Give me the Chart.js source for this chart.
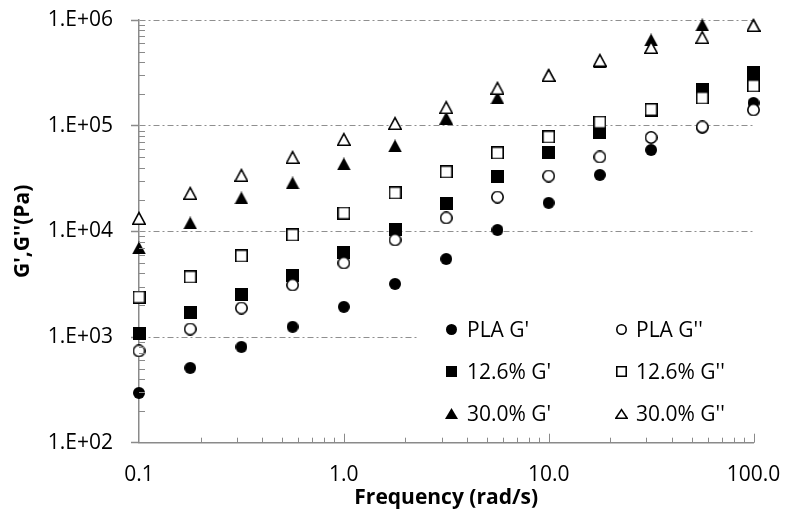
<!DOCTYPE html>
<html>
<head>
<meta charset="utf-8">
<script src="https://cdn.jsdelivr.net/npm/chart.js@4.4.0/dist/chart.umd.min.js"></script>
<style>
  html, body { margin: 0; padding: 0; background: #fff; }
  #wrap { width: 788px; height: 515px; }
</style>
</head>
<body>
<div id="wrap"><canvas id="chart" width="788" height="515"></canvas></div>
<script>
// Frequency sweep (rad/s)
const frequencies = [0.1, 0.1778, 0.3162, 0.5623, 1, 1.778, 3.162, 5.623, 10, 17.78, 31.62, 56.23, 100];

// Storage / loss moduli (Pa)
const plaG1    = [296, 510, 806, 1250, 1930, 3180, 5480, 10300, 18600, 34200, 58900, 96000, 164000];
const plaG2    = [739, 1190, 1880, 3110, 5020, 8300, 13400, 21100, 33400, 50600, 77300, 97300, 141000];
const pct126G1 = [1090, 1690, 2500, 3780, 6250, 10500, 18200, 32700, 55200, 87100, 140000, 220000, 316000];
const pct126G2 = [2390, 3700, 5850, 9240, 14900, 23100, 36500, 55200, 78200, 108000, 142000, 183000, 238000];
const pct30G1  = [6970, 12000, 20700, 28700, 43400, 64300, 118000, 183000, 300000, 401000, 647000, 897000, 890000];
const pct30G2  = [13400, 23100, 34200, 50600, 74900, 106000, 150000, 228000, 302000, 419000, 556000, 690000, 897000];

const seriesNames = ["PLA G'", "PLA G''", "12.6% G'", "12.6% G''", "30.0% G'", "30.0% G''"];

// Axis ticks
const xTicks = [0.1, 1, 10, 100];
const xTickLabels = ['0.1', '1.0', '10.0', '100.0'];
const yTicks = [1e2, 1e3, 1e4, 1e5, 1e6];
const yTickLabels = ['1.E+02', '1.E+03', '1.E+04', '1.E+05', '1.E+06'];

const FONT = '"Open Sans", "DejaVu Sans", sans-serif';
const AXIS_COLOR = '#8a8a8a';
const GRID_COLOR = '#8f8f8f';

// Marker bitmaps (Excel-like filled / hollow symbols)
function makeMarker(shape, filled, w, h) {
  const c = document.createElement('canvas');
  c.width = w;
  c.height = h;
  const g = c.getContext('2d');
  const lw = filled ? 0 : 1.6;
  const p = lw / 2;
  g.beginPath();
  if (shape === 'circle') {
    g.arc(w / 2, h / 2, w / 2 - p, 0, Math.PI * 2);
  } else if (shape === 'square') {
    g.rect(p, p, w - 2 * p, h - 2 * p);
  } else {
    g.moveTo(w / 2, p * 2);
    g.lineTo(w - p, h - p);
    g.lineTo(p, h - p);
    g.closePath();
  }
  g.fillStyle = filled ? '#000' : '#fff';
  g.fill();
  if (!filled) {
    g.lineWidth = lw;
    g.strokeStyle = '#000';
    g.stroke();
  }
  return c;
}

const plotMarkers = [
  makeMarker('circle', true, 12, 12),
  makeMarker('circle', false, 13, 13),
  makeMarker('square', true, 13, 13),
  makeMarker('square', false, 13, 13),
  makeMarker('triangle', true, 14, 13),
  makeMarker('triangle', false, 14, 14)
];
const legendMarkers = [
  makeMarker('circle', true, 11, 11),
  makeMarker('circle', false, 11, 11),
  makeMarker('square', true, 11, 11),
  makeMarker('square', false, 11, 11),
  makeMarker('triangle', true, 13, 11),
  makeMarker('triangle', false, 13, 11)
];

const seriesValues = [plaG1, plaG2, pct126G1, pct126G2, pct30G1, pct30G2];

const datasets = seriesValues.map((vals, i) => ({
  label: seriesNames[i],
  data: vals.map((v, k) => ({ x: frequencies[k], y: v })),
  pointStyle: plotMarkers[i],
  pointRadius: 7,
  pointBorderWidth: 0,
  showLine: false,
  clip: false,
  // hollow G'' symbols sit on top of the filled G' ones
  order: i % 2 === 1 ? 0 : 1
}));

// Inner minor ticks plus the in-plot legend
const axisExtras = {
  id: 'axisExtras',
  beforeDatasetsDraw(chart) {
    const ctx = chart.ctx;
    ctx.save();
    ctx.fillStyle = '#fff';
    ctx.fillRect(418, 306, 352, 124);
    ctx.restore();
  },
  afterDraw(chart) {
    const { ctx, chartArea: a, scales: { x, y } } = chart;
    ctx.save();
    ctx.strokeStyle = AXIS_COLOR;
    ctx.lineWidth = 1;
    ctx.beginPath();
    for (let d = 100; d < 1e6; d *= 10) {
      for (let m = 2; m <= 9; m++) {
        const py = Math.round(y.getPixelForValue(m * d)) + 0.5;
        ctx.moveTo(a.left, py);
        ctx.lineTo(a.left + 6, py);
      }
    }
    for (let d = 0.1; d < 99; d *= 10) {
      for (let m = 2; m <= 9; m++) {
        const px = Math.round(x.getPixelForValue(m * d)) + 0.5;
        ctx.moveTo(px, a.bottom);
        ctx.lineTo(px, a.bottom - 5);
      }
    }
    xTicks.slice(1).forEach(v => {
      const px = Math.round(x.getPixelForValue(v)) + 0.5;
      ctx.moveTo(px, a.bottom);
      ctx.lineTo(px, a.bottom - 9);
    });
    ctx.stroke();

    // legend: G' in the left column, G'' in the right one
    const rowY = [329, 371, 413];
    const colMarkX = [451, 621];
    const colTextX = [467, 636];
    ctx.font = '21px ' + FONT;
    ctx.fillStyle = '#000';
    ctx.textBaseline = 'alphabetic';
    ctx.textAlign = 'left';
    seriesNames.forEach((name, i) => {
      const col = i % 2;
      const row = Math.floor(i / 2);
      const m = legendMarkers[i];
      ctx.drawImage(m, Math.round(colMarkX[col] - m.width / 2), Math.round(rowY[row] - m.height / 2));
      ctx.fillText(name, colTextX[col], rowY[row] + 7.5);
    });
    ctx.restore();
  }
};

// keep label overhang from pushing the plot area around
function noOverhang(s) {
  s.paddingTop = 0;
  s.paddingBottom = 0;
  s.paddingLeft = 0;
  s.paddingRight = 0;
}

new Chart(document.getElementById('chart'), {
  type: 'scatter',
  data: { datasets: datasets },
  options: {
    responsive: false,
    animation: false,
    events: [],
    layout: { padding: { top: 20, right: 34.5, bottom: 0, left: 0 } },
    plugins: {
      legend: { display: false },
      tooltip: { enabled: false }
    },
    scales: {
      x: {
        type: 'logarithmic',
        min: 0.1,
        max: 100,
        afterBuildTicks: s => { s.ticks = xTicks.map(v => ({ value: v })); },
        afterFit: s => { s.height = 72.3; noOverhang(s); },
        ticks: {
          callback: (v, i) => xTickLabels[i],
          font: { family: FONT, size: 21 },
          color: '#000',
          padding: 20,
          maxRotation: 0,
          autoSkip: false
        },
        grid: { drawOnChartArea: false, drawTicks: false },
        border: { color: AXIS_COLOR, width: 1.5 },
        title: {
          display: true,
          text: 'Frequency (rad/s)',
          font: { family: FONT, size: 21, weight: 'bold' },
          color: '#000',
          padding: { top: 0, bottom: 4.4 }
        }
      },
      y: {
        type: 'logarithmic',
        min: 1e2,
        max: 1e6,
        afterBuildTicks: s => { s.ticks = yTicks.map(v => ({ value: v })); },
        afterFit: s => { s.width = 139; noOverhang(s); },
        ticks: {
          callback: (v, i) => yTickLabels[i],
          font: { family: FONT, size: 21 },
          color: '#000',
          padding: 18,
          autoSkip: false
        },
        grid: {
          color: c => (c.tick && c.tick.value === 100 ? 'rgba(0,0,0,0)' : GRID_COLOR),
          lineWidth: 1,
          drawTicks: true,
          tickLength: 8,
          tickColor: AXIS_COLOR,
          tickWidth: 1.5
        },
        border: { color: AXIS_COLOR, width: 1.5, dash: [6, 3, 2, 3] },
        title: {
          display: true,
          text: "G',G''(Pa)",
          font: { family: FONT, size: 21, weight: 'bold' },
          color: '#000',
          padding: { top: 10, bottom: 0 }
        }
      }
    }
  },
  plugins: [axisExtras]
});
</script>
</body>
</html>
